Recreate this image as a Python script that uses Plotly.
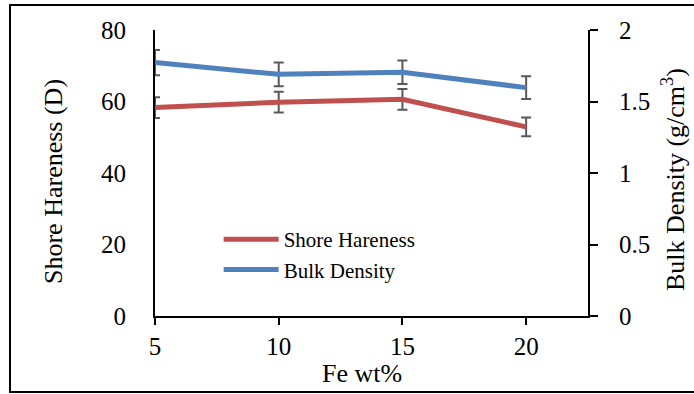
import plotly.graph_objects as go

fe_wt = [5, 10, 15, 20]
shore_hardness = [58.3, 59.8, 60.6, 52.9]
shore_err = [2.9, 2.9, 2.9, 2.6]
bulk_density = [1.772, 1.69, 1.704, 1.597]
bulk_err = [0.088, 0.083, 0.082, 0.079]

x_ticks = [5, 10, 15, 20]
y1_ticks = [0, 20, 40, 60, 80]
y2_ticks = [0, 0.5, 1, 1.5, 2]
y2_labels = ["0", "0.5", "1", "1.5", "2"]

FONT = "Liberation Serif"
RED = "#C0504D"
BLUE = "#4F81BD"
ERR = "#595959"

L, R, T, B = 155, 106, 30, 78
W, H = 694, 394
PW, PH = W - L - R, H - T - B


def px_x(x):
    return (x - L) / PW


def px_y(y):
    return (H - B - y) / PH


fig = go.Figure()
fig.add_trace(go.Scatter(
    x=fe_wt, y=shore_hardness, name="Shore Hareness", mode="lines",
    line=dict(color=RED, width=5),
    error_y=dict(type="data", array=shore_err, visible=True, color=ERR, thickness=2, width=5),
    yaxis="y"))
fig.add_trace(go.Scatter(
    x=fe_wt, y=bulk_density, name="Bulk Density", mode="lines",
    line=dict(color=BLUE, width=5),
    error_y=dict(type="data", array=bulk_err, visible=True, color=ERR, thickness=2, width=5),
    yaxis="y2"))

fig.update_layout(
    width=W, height=H,
    margin=dict(l=L, r=R, t=T, b=B),
    paper_bgcolor="white", plot_bgcolor="white",
    font=dict(family=FONT, color="black", size=25),
    showlegend=True,
    legend=dict(x=0.147, y=0.215, xanchor="left", yanchor="middle",
                bgcolor="rgba(0,0,0,0)", font=dict(size=21, family=FONT),
                itemwidth=55, tracegroupgap=0),
    xaxis=dict(range=[5, 22.5], tickvals=x_ticks, ticktext=[str(v) for v in x_ticks],
               showgrid=False, zeroline=False, showline=True, linecolor="black", linewidth=1.8,
               ticks="outside", ticklen=7, tickwidth=1.8, tickcolor="black",
               tickfont=dict(size=25, family=FONT)),
    yaxis=dict(range=[0, 80], tickvals=y1_ticks, showgrid=False, zeroline=False,
               showline=True, linecolor="black", linewidth=1.8, ticks="",
               ticklabelstandoff=22,
               tickfont=dict(size=25, family=FONT)),
    yaxis2=dict(range=[0, 2], tickvals=y2_ticks, ticktext=y2_labels, overlaying="y", side="right",
                showgrid=False, zeroline=False, showline=True, linecolor="black", linewidth=1.8,
                ticks="outside", ticklen=8, tickwidth=1.8, tickcolor="black",
                ticklabelstandoff=16,
                tickfont=dict(size=25, family=FONT)),
)

# axis titles
fig.add_annotation(text="Fe wt%", xref="paper", yref="paper", x=px_x(362), y=px_y(373),
                   showarrow=False, font=dict(size=26, family=FONT), xanchor="center", yanchor="middle")
fig.add_annotation(text="Shore Hareness (D)", xref="paper", yref="paper", x=px_x(53), y=px_y(182),
                   showarrow=False, textangle=-90, font=dict(size=26, family=FONT),
                   xanchor="center", yanchor="middle")
fig.add_annotation(text="Bulk Density (g/cm<sup>3</sup>)", xref="paper", yref="paper",
                   x=px_x(673), y=px_y(180), showarrow=False, textangle=-90,
                   font=dict(size=26, family=FONT), xanchor="center", yanchor="middle")

fig.add_shape(type="rect", xref="paper", yref="paper",
              x0=px_x(10), x1=px_x(700), y0=px_y(392), y1=px_y(5),
              line=dict(color="black", width=2), fillcolor="rgba(0,0,0,0)", layer="below")

fig.write_html("out.html")
